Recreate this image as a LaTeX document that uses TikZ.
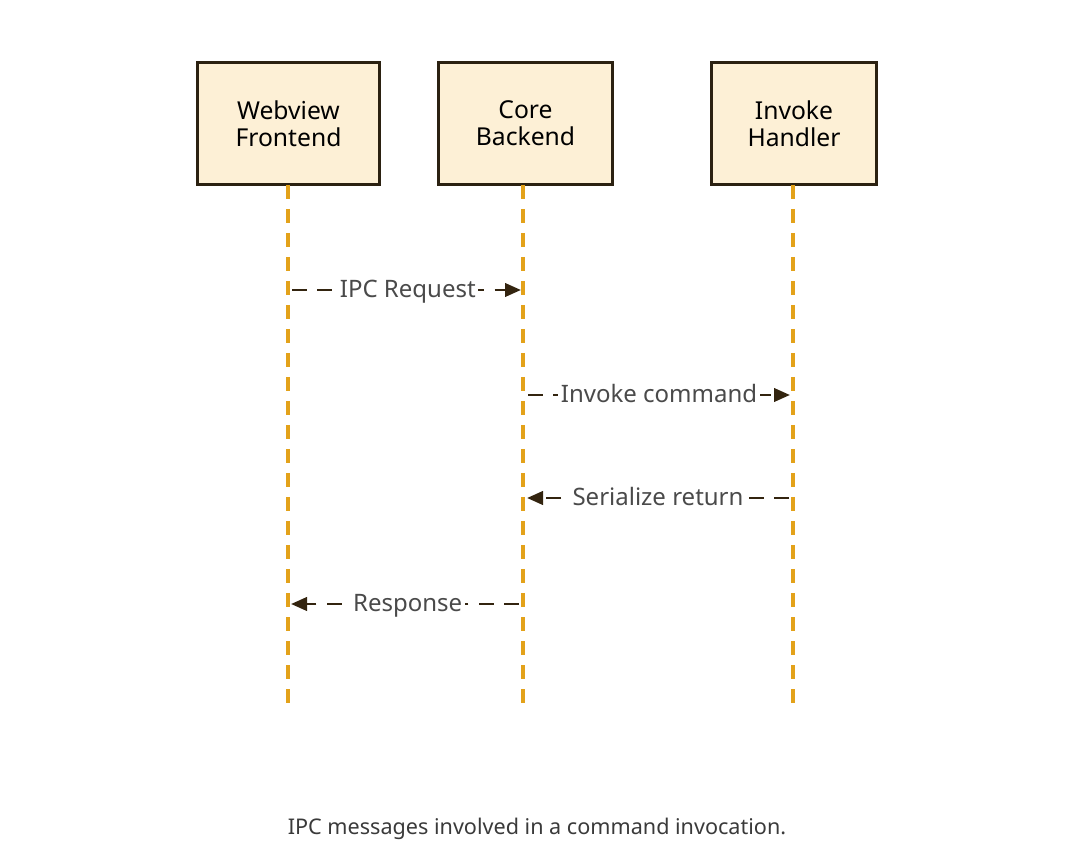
\documentclass[tikz,border=0pt]{standalone}
\usepackage{fontspec}
\setmainfont{Noto Sans}
\usetikzlibrary{arrows.meta}
\definecolor{boxfill}{HTML}{FDF0D6}
\definecolor{boxdraw}{HTML}{2B2111}
\definecolor{life}{HTML}{E3A21A}
\definecolor{msg}{HTML}{33240F}
\definecolor{lbl}{HTML}{4A4A4A}
\definecolor{cap}{HTML}{3A3A3A}
\tikzset{
  actor/.style={draw=boxdraw, fill=boxfill, line width=2.4pt, minimum width=#1, minimum height=92pt, align=center, font=\fontsize{18.5}{20.5}\selectfont, text=black, inner sep=0pt},
  lifeline/.style={draw=life, line width=2.6pt, dash pattern=on 10.5pt off 7.5pt},
  message/.style={draw=msg, line width=2.2pt, dash pattern=on 11pt off 8pt, -{Triangle[length=12pt,width=10pt]}},
  mlabel/.style={fill=white, text=lbl, font=\fontsize{18}{20}\selectfont, inner sep=2pt, anchor=base, yshift=-5.5pt},
}
\begin{document}
\begin{tikzpicture}[x=0.75pt,y=-0.75pt]
\useasboundingbox (0,0) rectangle (1076,859);
\node[actor=137pt] (wf) at (288.5,123.5) {Webview\\Frontend};
\node[actor=131pt] (cb) at (525.5,123.5) {Core\\Backend};
\node[actor=124pt] (ih) at (794,123.5) {Invoke\\Handler};
\coordinate (wfe) at (288,706);
\coordinate (cbe) at (523,706);
\coordinate (ihe) at (793,706);
\draw[lifeline] (288,185) -- (wfe);
\draw[lifeline] (523,185) -- (cbe);
\draw[lifeline] (793,185) -- (ihe);
\coordinate (a1) at (292,290); \coordinate (b1) at (521,290);
\coordinate (a2) at (528,395); \coordinate (b2) at (790,395);
\coordinate (a3) at (789,498); \coordinate (b3) at (527,498);
\coordinate (a4) at (519,604); \coordinate (b4) at (291,604);
\draw[message] (a1) -- node[mlabel, xshift=1pt] (l1) {IPC Request} (b1);
\draw[message] (a2) -- node[mlabel, xshift=0pt] (l2) {Invoke command} (b2);
\draw[message] (a3) -- node[mlabel] (l3) {Serialize return} (b3);
\draw[message] (a4) -- node[mlabel, xshift=2pt] (l4) {Response} (b4);
\node[text=cap, font=\fontsize{16.2}{19}\selectfont] (caption) at (537,829) {IPC messages involved in a command invocation.};
\end{tikzpicture}
\end{document}
